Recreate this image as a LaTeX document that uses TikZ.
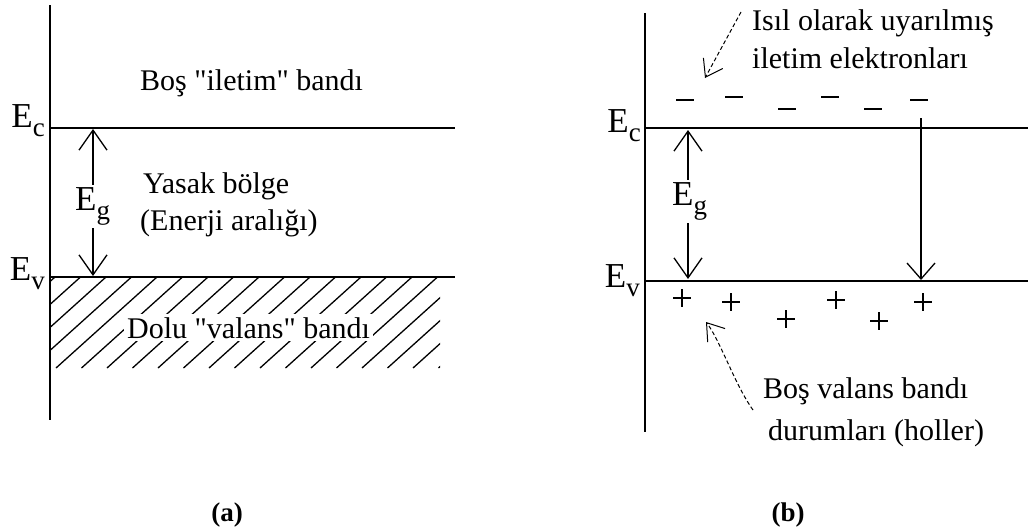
\documentclass[tikz,border=0pt]{standalone}
\usepackage{fontspec}
\setmainfont{Liberation Serif}[Ligatures=TeXOff]
\usetikzlibrary{arrows.meta}
\newcommand\Esub[1]{E\raisebox{-0.28em}{\fontsize{27}{27}\selectfont #1}}
\tikzset{
  axisline/.style={line width=1.5pt},
  levelline/.style={line width=1.5pt},
  hatchline/.style={line width=1.3pt},
  txt/.style={font=\fontsize{30}{34}\selectfont, inner sep=0pt},
  elabel/.style={font=\fontsize{35}{36}\selectfont, inner sep=0pt},
  gaparrow/.style={line width=1.3pt, {Straight Barb[length=20pt,width=28pt]}-{Straight Barb[length=20pt,width=28pt]}},
  downarrow/.style={line width=1.3pt, -{Straight Barb[length=16pt,width=28pt]}},
  dasharrow/.style={line width=1pt, dash pattern=on 4pt off 2.5pt, -{Straight Barb[length=16pt,width=22pt]}},
  signline/.style={line width=1.5pt},
  caption/.style={font=\bfseries\fontsize{27}{29}\selectfont, inner sep=0pt}
}
\begin{document}
\begin{tikzpicture}[x=1pt,y=-1pt]
\useasboundingbox[fill=white] (0,0) rectangle (1028,530);

% ---------------- (a) ----------------
\coordinate (aTop) at (50,5);
\coordinate (aBot) at (50,420);
\draw[axisline] (aTop) -- (aBot);
\coordinate (acL) at (50,128);
\coordinate (acR) at (455,128);
\coordinate (avL) at (50,277);
\coordinate (avR) at (455,277);
\draw[levelline] (acL) -- (acR);
\begin{scope}
  \clip (51,278) rectangle (440,368);
  \foreach \x in {55,80.5,...,560} \draw[hatchline] (\x,277) -- ++(-101,91);
\end{scope}
\draw[levelline] (avL) -- (avR);

\node[txt, anchor=base west] (bos) at (140,90) {Boş "iletim" bandı};
\node[txt, anchor=base west] (yasak) at (143,193) {Yasak bölge};
\node[txt, anchor=base west] (enerji) at (140,230) {(Enerji aralığı)};
\node[txt, anchor=base west, fill=white, inner sep=3pt] (dolu) at (124,338) {Dolu "valans" bandı};

\node[elabel, anchor=base east] (ecA) at (45,127) {\Esub{c}};
\node[elabel, anchor=base east] (evA) at (45,280) {\Esub{v}};

\coordinate (ga1) at (93,129);
\coordinate (ga2) at (93,276);
\draw[gaparrow] (ga1) -- (ga2);
\node[elabel, anchor=base west, fill=white, inner sep=2pt] (egA) at (73,210) {\Esub{g}};

\node[caption, anchor=base] (capa) at (227,521) {(a)};

% ---------------- (b) ----------------
\coordinate (bTop) at (645,13);
\coordinate (bBot) at (645,432);
\draw[axisline] (bTop) -- (bBot);
\coordinate (bcL) at (645,128);
\coordinate (bcR) at (1028,128);
\coordinate (bvL) at (645,281);
\coordinate (bvR) at (1028,281);
\draw[levelline] (bcL) -- (bcR);
\draw[levelline] (bvL) -- (bvR);

\node[elabel, anchor=base east] (ecB) at (641,132) {\Esub{c}};
\node[elabel, anchor=base east] (evB) at (640,287) {\Esub{v}};

\coordinate (gb1) at (688,130);
\coordinate (gb2) at (688,279);
\draw[gaparrow] (gb1) -- (gb2);
\node[elabel, anchor=base west, fill=white, inner sep=2pt] (egB) at (670,205) {\Esub{g}};

% electrons
\foreach \x/\y in {685/100, 734/97, 787/109, 830/97, 873/109, 919/100}
  \draw[signline] (\x-9,\y) -- (\x+9,\y);
% holes
\foreach \x/\y in {682/298, 731/302, 786/319, 836/300, 879/321, 923/302}
  \draw[signline] (\x-9,\y) -- (\x+9,\y) (\x,\y-9) -- (\x,\y+9);

\coordinate (drop1) at (921,118);
\coordinate (drop2) at (921,280);
\draw[downarrow] (drop1) -- (drop2);

\node[txt, anchor=base west] (isil) at (752,30) {Isıl olarak uyarılmış};
\node[txt, anchor=base west] (iletim) at (752,68) {iletim elektronları};
\node[txt, anchor=base west] (bosv) at (763,398) {Boş valans bandı};
\node[txt, anchor=base west] (durum) at (768,440) {durumları (holler)};

\coordinate (d1s) at (741,12);
\coordinate (d1e) at (705,78);
\draw[dasharrow] (d1s) -- (d1e);
\coordinate (d2s) at (753,410);
\coordinate (d2e) at (706,322);
\draw[dasharrow] (d2s) .. controls (735,385) and (720,340) .. (d2e);

\node[caption, anchor=base] (capb) at (788,521) {(b)};
\end{tikzpicture}
\end{document}
